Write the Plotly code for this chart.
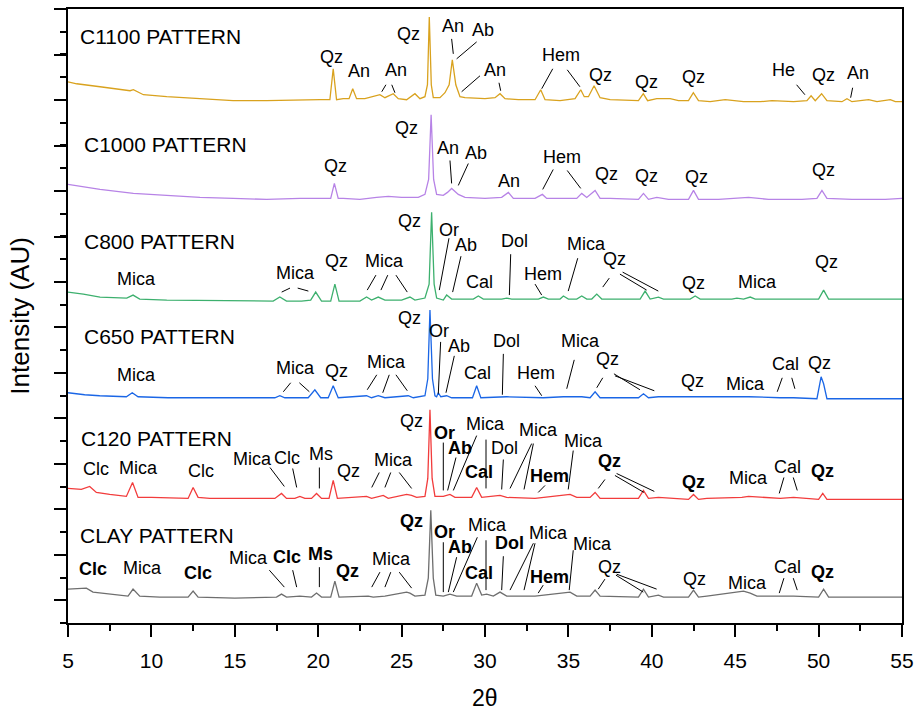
import plotly.graph_objects as go

# ---------------- data: 2theta (deg) and stacked intensity (AU) ----------------
tt_c1100 = [5.0, 5.52, 6.92, 8.72, 8.92, 9.52, 10.92, 12.91, 14.90, 16.90, 18.91, 20.11, 20.7, 20.9, 21.1,
            21.5, 21.85, 22.07, 22.3, 22.8, 23.7, 24.0, 24.5, 24.8, 25.3, 25.8, 26.1, 26.4, 26.55, 26.66,
            26.78, 26.9, 27.3, 27.6, 27.85, 28.04, 28.25, 28.5, 28.8, 30.0, 30.6, 30.9, 31.2, 32.0, 33.0,
            33.34, 33.6, 34.5, 35.4, 35.74, 35.95, 36.2, 36.54, 36.9, 37.5, 38.5, 39.2, 39.49, 39.75, 40.3,
            41.1, 41.6, 42.2, 42.49, 42.8, 43.5, 44.4, 45.5, 46.5, 47.2, 48.5, 49.3, 49.55, 49.8, 50.18,
            50.5, 51.4, 51.7, 52.0, 53.0, 53.5, 54.3, 54.6, 55.0]
i_c1100 = [543, 541, 538, 534, 535, 530, 528, 526, 524, 524, 525, 525, 525, 556, 525,
           526, 526, 536, 526, 526, 530, 527, 531, 526, 525, 531, 526, 528, 540, 608,
           540, 527, 527, 532, 540, 565, 540, 528, 527, 526, 527, 531, 526, 525, 525,
           535, 525, 524, 526, 535, 528, 528, 539, 527, 525, 524, 524, 531, 524, 526,
           526, 524, 524, 532, 524, 523, 525, 523, 523, 524, 523, 524, 529, 524, 531,
           524, 523, 526, 523, 525, 523, 525, 523, 523]

tt_c1000 = [5.0, 6.92, 8.92, 10.92, 12.91, 14.91, 16.91, 18.91, 19.91, 20.75, 20.97, 21.2, 21.5, 22.5, 23.5,
            24.2, 25.0, 26.0, 26.4, 26.62, 26.77, 26.92, 27.1, 27.5, 27.75, 28.0, 28.4, 28.8, 30.0, 31.0,
            31.4, 31.7, 33.0, 33.44, 33.7, 35.5, 35.8, 36.1, 36.6, 36.9, 37.5, 39.2, 39.5, 39.8, 40.3,
            41.0, 42.2, 42.5, 42.8, 44.0, 45.8, 47.0, 49.0, 49.9, 50.2, 50.5, 52.0, 54.0, 55.0]
i_c1000 = [440, 435, 431, 429, 427, 426, 425, 426, 426, 426, 441, 426, 426, 425, 427,
           428, 427, 427, 430, 445, 510, 445, 430, 429, 432, 436, 430, 427, 426, 427,
           432, 426, 426, 430, 426, 426, 431, 427, 434, 426, 426, 425, 431, 425, 427,
           425, 425, 434, 425, 425, 427, 425, 425, 426, 434, 426, 425, 425, 426]

tt_c800 = [5.0, 5.92, 6.92, 8.52, 8.9, 9.3, 10.92, 14.91, 17.3, 17.7, 18.1, 19.0, 19.55, 19.85, 20.2,
           20.75, 21.0, 21.25, 22.5, 22.9, 23.2, 23.6, 24.0, 25.0, 25.5, 25.8, 26.4, 26.65, 26.8, 26.95,
           27.1, 27.5, 27.7, 28.0, 29.3, 29.6, 29.9, 31.0, 31.3, 31.6, 33.2, 33.5, 33.8, 34.5, 34.7,
           35.0, 35.5, 35.8, 36.1, 36.4, 36.7, 37.0, 39.3, 39.6, 39.9, 40.4, 40.7, 42.3, 42.6, 42.9,
           44.8, 45.1, 45.5, 45.9, 46.2, 50.0, 50.3, 50.6, 55.0]
i_c800 = [332, 330, 327, 326, 329, 325, 324, 323, 323, 327, 323, 323, 324, 332, 323,
          323, 340, 323, 323, 327, 324, 327, 324, 324, 327, 324, 326, 340, 412, 340,
          326, 324, 329, 325, 325, 328, 325, 325, 326, 325, 325, 327, 325, 325, 328,
          325, 325, 328, 325, 325, 330, 325, 325, 333, 325, 327, 325, 325, 328, 325,
          325, 326, 325, 327, 325, 325, 334, 325, 325]

tt_c650 = [5.0, 6.0, 6.9, 8.5, 8.85, 9.2, 11.0, 15.0, 17.4, 17.7, 18.0, 19.4, 19.8, 20.15, 20.6,
           20.9, 21.2, 22.9, 23.2, 23.6, 24.0, 25.4, 25.7, 26.4, 26.57, 26.7, 26.85, 27.0, 27.1, 27.2,
           27.35, 27.7, 28.0, 29.25, 29.5, 29.75, 31.3, 33.5, 34.7, 35.8, 36.3, 36.6, 36.9, 39.2, 39.5,
           39.8, 40.4, 42.5, 45.8, 47.7, 48.5, 49.9, 50.15, 50.3, 50.5, 55.0]
i_c650 = [231, 229, 228, 227, 231, 227, 226, 226, 226, 228, 226, 226, 234, 226, 226,
          238, 226, 228, 226, 228, 226, 228, 226, 228, 245, 314, 245, 228, 227, 231,
          227, 228, 226, 226, 238, 226, 227, 226, 227, 227, 226, 232, 226, 226, 230,
          226, 227, 227, 227, 226, 226, 225, 247, 240, 225, 225]

tt_c120 = [5.0, 5.8, 6.3, 6.7, 7.5, 8.5, 8.87, 9.2, 10.0, 11.5, 12.2, 12.5, 12.8, 13.5, 15.0,
           17.4, 17.8, 18.1, 18.6, 18.9, 19.2, 19.6, 19.9, 20.2, 20.65, 20.9, 21.15, 22.9, 23.2, 23.9,
           24.2, 25.3, 25.6, 25.9, 26.4, 26.57, 26.7, 26.83, 27.0, 27.5, 27.9, 28.2, 29.2, 29.5, 29.8,
           30.9, 31.3, 33.0, 35.1, 35.5, 36.3, 36.6, 36.9, 39.2, 39.5, 39.8, 40.4, 42.2, 42.5, 42.8,
           43.3, 45.4, 45.8, 47.7, 48.5, 50.0, 50.25, 50.5, 55.0]
i_c120 = [135, 134, 137, 131, 129, 127, 141, 126, 126, 125, 125, 136, 126, 125, 125,
          125, 130, 125, 125, 127, 125, 125, 130, 125, 125, 143, 125, 127, 125, 128,
          125, 129, 128, 126, 127, 145, 214, 145, 127, 127, 129, 126, 126, 136, 126,
          128, 126, 125, 129, 126, 126, 131, 125, 125, 133, 125, 126, 124, 129, 124,
          125, 126, 127, 125, 126, 124, 130, 124, 124]

tt_clay = [5.0, 6.1, 6.5, 7.5, 8.6, 8.9, 9.3, 10.5, 12.2, 12.5, 12.8, 15.0, 17.5, 17.8, 18.1,
           18.9, 19.6, 19.9, 20.2, 20.75, 21.0, 21.25, 23.0, 23.3, 24.0, 25.3, 25.5, 25.8, 26.4, 26.6,
           26.75, 26.9, 27.05, 27.5, 27.9, 28.3, 29.2, 29.5, 29.8, 30.1, 30.5, 30.9, 31.3, 33.0, 35.1,
           35.5, 36.3, 36.6, 36.9, 39.2, 39.5, 39.8, 40.4, 40.7, 42.2, 42.5, 42.8, 43.3, 45.5, 45.9,
           46.3, 47.7, 48.5, 50.0, 50.3, 50.6, 55.0]
i_clay = [34, 35, 31, 29, 27, 34, 27, 26, 26, 32, 26, 25, 26, 29, 26,
          27, 26, 30, 26, 26, 42, 26, 27, 26, 27, 31, 30, 27, 28, 45,
          113, 45, 28, 27, 29, 27, 27, 40, 28, 29, 27, 31, 27, 27, 31,
          27, 27, 33, 27, 26, 34, 26, 28, 26, 26, 33, 26, 27, 32, 30,
          27, 27, 27, 26, 34, 26, 26]

pattern_names = ["C1100 PATTERN", "C1000 PATTERN", "C800 PATTERN", "C650 PATTERN", "C120 PATTERN", "CLAY PATTERN"]
pattern_colors = ["#D9A21E", "#B783E6", "#3DB06E", "#1A66E6", "#F23C3C", "#6E6E6E"]
name_pos = [(5.60, 588), (5.82, 480), (5.82, 383), (5.82, 287), (5.66, 185), (5.62, 88)]

# phase labels: (text, 2theta, intensity, bold)
labels = [
    # C1100
    ("Qz", 20.81, 568, 0), ("An", 22.46, 554, 0), ("An", 24.66, 555, 0), ("Qz", 25.40, 591, 0),
    ("An", 28.10, 599, 0), ("Ab", 29.90, 595, 0), ("An", 30.60, 555, 0), ("Hem", 34.56, 570, 0),
    ("Qz", 36.95, 550, 0), ("Qz", 39.69, 543, 0), ("Qz", 42.49, 548, 0), ("He", 47.88, 555, 0),
    ("Qz", 50.28, 550, 0), ("An", 52.34, 552, 0),
    # C1000
    ("Qz", 21.01, 458, 0), ("Qz", 25.30, 497, 0), ("An", 27.80, 477, 0), ("Ab", 29.46, 472, 0),
    ("An", 31.46, 443, 0), ("Hem", 34.60, 468, 0), ("Qz", 37.30, 450, 0), ("Qz", 39.69, 448, 0),
    ("Qz", 42.69, 447, 0), ("Qz", 50.32, 454, 0),
    # C800
    ("Mica", 9.08, 345, 0), ("Mica", 18.61, 351, 0), ("Qz", 21.07, 363, 0), ("Mica", 24.00, 363, 0),
    ("Qz", 25.46, 403, 0), ("Or", 27.84, 394, 0), ("Ab", 28.86, 379, 0), ("Cal", 29.66, 342, 0),
    ("Dol", 31.74, 383, 0), ("Hem", 33.46, 350, 0), ("Mica", 36.10, 380, 0), ("Qz", 37.79, 365, 0),
    ("Qz", 42.49, 341, 0), ("Mica", 46.35, 342, 0), ("Qz", 50.48, 362, 0),
    # C650
    ("Mica", 9.08, 249, 0), ("Mica", 18.61, 256, 0), ("Qz", 21.07, 253, 0), ("Mica", 24.11, 262, 0),
    ("Qz", 25.46, 306, 0), ("Or", 27.26, 293, 0), ("Ab", 28.46, 278, 0), ("Cal", 29.54, 251, 0),
    ("Dol", 31.30, 283, 0), ("Hem", 33.06, 251, 0), ("Mica", 35.74, 283, 0), ("Qz", 37.36, 265, 0),
    ("Qz", 42.43, 243, 0), ("Mica", 45.59, 240, 0), ("Cal", 48.03, 260, 0), ("Qz", 50.08, 261, 0),
    # C120
    ("Clc", 6.68, 155, 0), ("Mica", 9.21, 156, 0), ("Clc", 12.96, 152, 0), ("Mica", 16.07, 165, 0),
    ("Clc", 18.15, 166, 0), ("Ms", 20.15, 170, 0), ("Qz", 21.80, 152, 0), ("Mica", 24.54, 164, 0),
    ("Qz", 25.60, 203, 0), ("Or", 27.56, 191, 1), ("Ab", 28.50, 176, 1), ("Mica", 30.00, 200, 0),
    ("Cal", 29.66, 151, 1), ("Dol", 31.14, 176, 0), ("Mica", 33.21, 194, 0), ("Hem", 33.85, 147, 1),
    ("Mica", 35.93, 183, 0), ("Qz", 37.49, 163, 1), ("Qz", 42.49, 141, 1), ("Mica", 45.78, 145, 0),
    ("Cal", 48.15, 157, 0), ("Qz", 50.24, 153, 1),
    # CLAY
    ("Clc", 6.48, 54, 1), ("Mica", 9.45, 55, 0), ("Clc", 12.81, 50, 1), ("Mica", 15.81, 65, 0),
    ("Clc", 18.15, 66, 1), ("Ms", 20.15, 69, 1), ("Qz", 21.74, 52, 1), ("Mica", 24.41, 64, 0),
    ("Qz", 25.60, 102, 1), ("Or", 27.56, 91, 1), ("Ab", 28.50, 76, 1), ("Mica", 30.12, 98, 0),
    ("Cal", 29.66, 50, 1), ("Dol", 31.44, 80, 1), ("Mica", 33.79, 90, 0), ("Hem", 33.84, 46, 1),
    ("Mica", 36.46, 79, 0), ("Qz", 37.49, 56, 0), ("Qz", 42.55, 44, 0), ("Mica", 45.72, 40, 0),
    ("Cal", 48.15, 56, 0), ("Qz", 50.24, 51, 1),
]

# leader lines: (2theta0, I0, 2theta1, I1)
leaders = [
    # C1100
    (23.81, 533, 24.06, 540), (24.41, 540, 24.60, 532), (28.00, 586, 28.10, 571), (29.50, 583, 28.30, 566),
    (29.70, 549, 28.60, 533), (30.84, 542, 30.94, 534), (34.06, 556, 33.40, 536), (34.93, 555, 35.69, 538),
    (48.68, 540, 49.18, 530), (52.04, 537, 51.92, 527),
    # C1000
    (27.90, 464, 28.00, 441), (29.00, 461, 28.40, 439), (34.09, 455, 33.46, 435), (34.93, 454, 35.74, 436),
    # C800
    (17.81, 332, 18.31, 336), (18.77, 336, 19.41, 333), (22.94, 334, 23.46, 349), (23.76, 334, 24.17, 349),
    (24.66, 349, 25.34, 332), (27.84, 386, 27.26, 334), (28.56, 368, 28.06, 332), (31.54, 370, 31.46, 329),
    (33.00, 340, 33.40, 329), (35.56, 366, 34.99, 333), (37.45, 346, 37.06, 337), (38.09, 350, 39.69, 334),
    (38.25, 352, 40.39, 333),
    # C650
    (17.91, 232, 18.35, 241), (18.87, 241, 19.47, 232), (22.94, 234, 23.51, 249), (23.87, 231, 24.26, 249),
    (24.66, 249, 25.34, 233), (27.34, 282, 27.20, 230), (28.16, 268, 27.66, 231), (31.10, 270, 31.04, 229),
    (33.00, 238, 33.40, 228), (35.35, 264, 34.90, 235), (37.06, 246, 36.70, 236), (37.73, 250, 39.29, 234),
    (37.79, 248, 40.15, 233), (47.82, 246, 47.52, 232), (48.39, 246, 48.58, 235),
    # C120
    (17.11, 156, 17.97, 137), (18.47, 155, 18.71, 136), (20.07, 156, 20.07, 135), (23.66, 151, 23.21, 136),
    (24.35, 151, 24.00, 136), (24.86, 151, 25.60, 135), (27.50, 181, 27.50, 133), (28.26, 166, 27.76, 133),
    (29.50, 188, 28.10, 133), (30.06, 184, 30.06, 135), (31.10, 164, 31.00, 134), (32.80, 180, 31.50, 135),
    (32.90, 180, 32.34, 134), (33.60, 138, 33.19, 131), (35.29, 173, 34.99, 134), (37.19, 144, 36.79, 135),
    (37.79, 148, 39.53, 131), (37.89, 150, 40.15, 132), (47.92, 146, 47.64, 130), (48.48, 146, 48.72, 133),
    # CLAY
    (17.07, 53, 17.97, 36), (18.47, 53, 18.71, 36), (20.07, 56, 20.07, 36), (23.70, 51, 23.21, 36),
    (24.35, 51, 24.00, 36), (24.86, 51, 25.60, 35), (27.50, 81, 27.50, 31), (28.30, 66, 27.80, 31),
    (29.54, 86, 28.10, 31), (30.06, 83, 30.06, 33), (31.10, 67, 31.00, 33), (32.90, 80, 31.50, 33),
    (33.00, 80, 32.34, 33), (33.49, 38, 33.19, 30), (35.29, 73, 35.05, 33), (37.19, 44, 36.79, 34),
    (37.85, 48, 39.49, 31), (37.89, 49, 40.29, 34), (47.92, 45, 47.64, 30), (48.48, 45, 48.72, 33),
]

x_ticks = [5, 10, 15, 20, 25, 30, 35, 40, 45, 50, 55]

# ---------------- figure ----------------
FONT = "Liberation Sans, Arial, sans-serif"
fig = go.Figure()

series_x = [tt_c1100, tt_c1000, tt_c800, tt_c650, tt_c120, tt_clay]
series_y = [i_c1100, i_c1000, i_c800, i_c650, i_c120, i_clay]
for xs, ys, col, nm in zip(series_x, series_y, pattern_colors, pattern_names):
    fig.add_trace(go.Scatter(x=xs, y=ys, mode="lines", name=nm,
                             line=dict(color=col, width=1.3), hoverinfo="skip"))

lx, ly = [], []
for x0, y0, x1, y1 in leaders:
    lx += [x0, x1, None]
    ly += [y0, y1, None]
fig.add_trace(go.Scatter(x=lx, y=ly, mode="lines", line=dict(color="black", width=1),
                         hoverinfo="skip", showlegend=False))

annotations = []
for nm, (px, py) in zip(pattern_names, name_pos):
    annotations.append(dict(x=px, y=py, xref="x", yref="y", text=nm, showarrow=False,
                            xanchor="left", yanchor="middle",
                            font=dict(family=FONT, size=21, color="black")))
for txt, px, py, b in labels:
    annotations.append(dict(x=px, y=py, xref="x", yref="y",
                            text=("<b>%s</b>" % txt) if b else txt, showarrow=False,
                            xanchor="center", yanchor="middle",
                            font=dict(family=FONT, size=18, color="black")))
annotations.append(dict(x=-0.058, y=0.5, xref="paper", yref="paper", text="Intensity (AU)",
                        textangle=-90, showarrow=False, xanchor="center", yanchor="middle",
                        font=dict(family=FONT, size=26, color="black")))
annotations.append(dict(x=0.5, y=-0.122, xref="paper", yref="paper", text="2θ",
                        showarrow=False, xanchor="center", yanchor="middle",
                        font=dict(family=FONT, size=23, color="black")))

fig.update_layout(
    width=921, height=711,
    margin=dict(l=68, r=19, t=7, b=88),
    paper_bgcolor="white", plot_bgcolor="white",
    showlegend=False,
    annotations=annotations,
    xaxis=dict(range=[5, 55], tickvals=x_ticks, ticks="outside", ticklen=12, tickwidth=2,
               tickcolor="black", showline=True, linewidth=2, linecolor="black", mirror=True,
               showgrid=False, zeroline=False, ticklabelstandoff=6,
               tickfont=dict(family=FONT, size=21, color="black"),
               minor=dict(dtick=2.5, tick0=5, ticks="outside", ticklen=6, tickwidth=2,
                          tickcolor="black", showgrid=False)),
    yaxis=dict(range=[0, 616], tick0=22.7, dtick=45.63, ticks="outside", ticklen=12, tickwidth=2,
               tickcolor="black", showline=True, linewidth=2, linecolor="black", mirror=True,
               showgrid=False, zeroline=False, showticklabels=False,
               minor=dict(tick0=0, dtick=22.815, ticks="outside", ticklen=6, tickwidth=2,
                          tickcolor="black", showgrid=False)),
)

fig.write_html("out.html", config={"displayModeBar": False},
               post_script="document.body.style.margin='0px';document.body.style.overflow='hidden';")
